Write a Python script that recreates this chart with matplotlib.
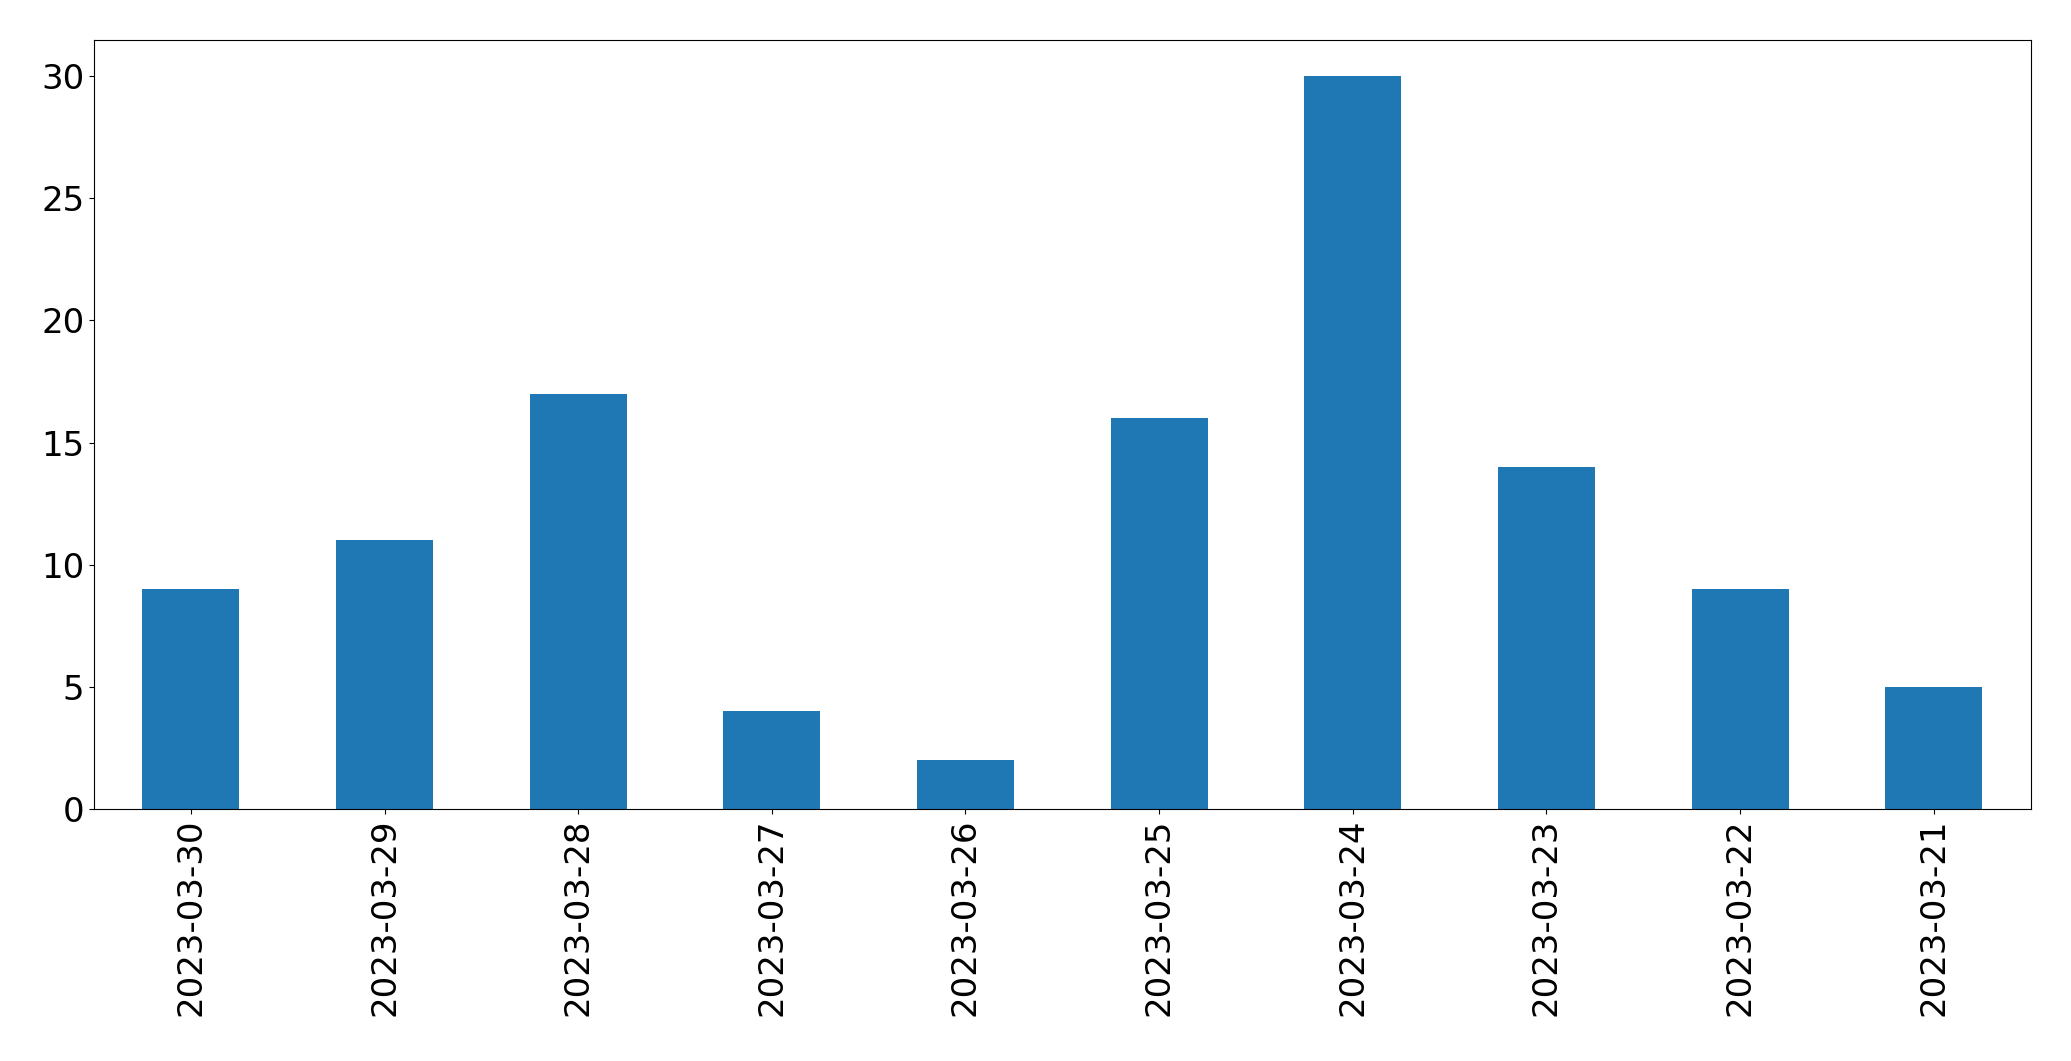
import pandas as pd
import matplotlib.pyplot as plt

dates = ['2023-03-30', '2023-03-29', '2023-03-28', '2023-03-27', '2023-03-26',
         '2023-03-25', '2023-03-24', '2023-03-23', '2023-03-22', '2023-03-21']
counts = [9, 11, 17, 4, 2, 16, 30, 14, 9, 5]


def main():
    series = pd.Series(counts, index=dates)

    fig, ax = plt.subplots(figsize=(20.71, 10.61), dpi=100)
    series.plot.bar(ax=ax, color='#1f77b4')
    ax.tick_params(axis='both', labelsize=24.5)
    fig.subplots_adjust(left=0.0454, right=0.9805, top=0.9627, bottom=0.2375)

    fig.savefig('out.png', dpi=100)


if __name__ == "__main__":
    main()
